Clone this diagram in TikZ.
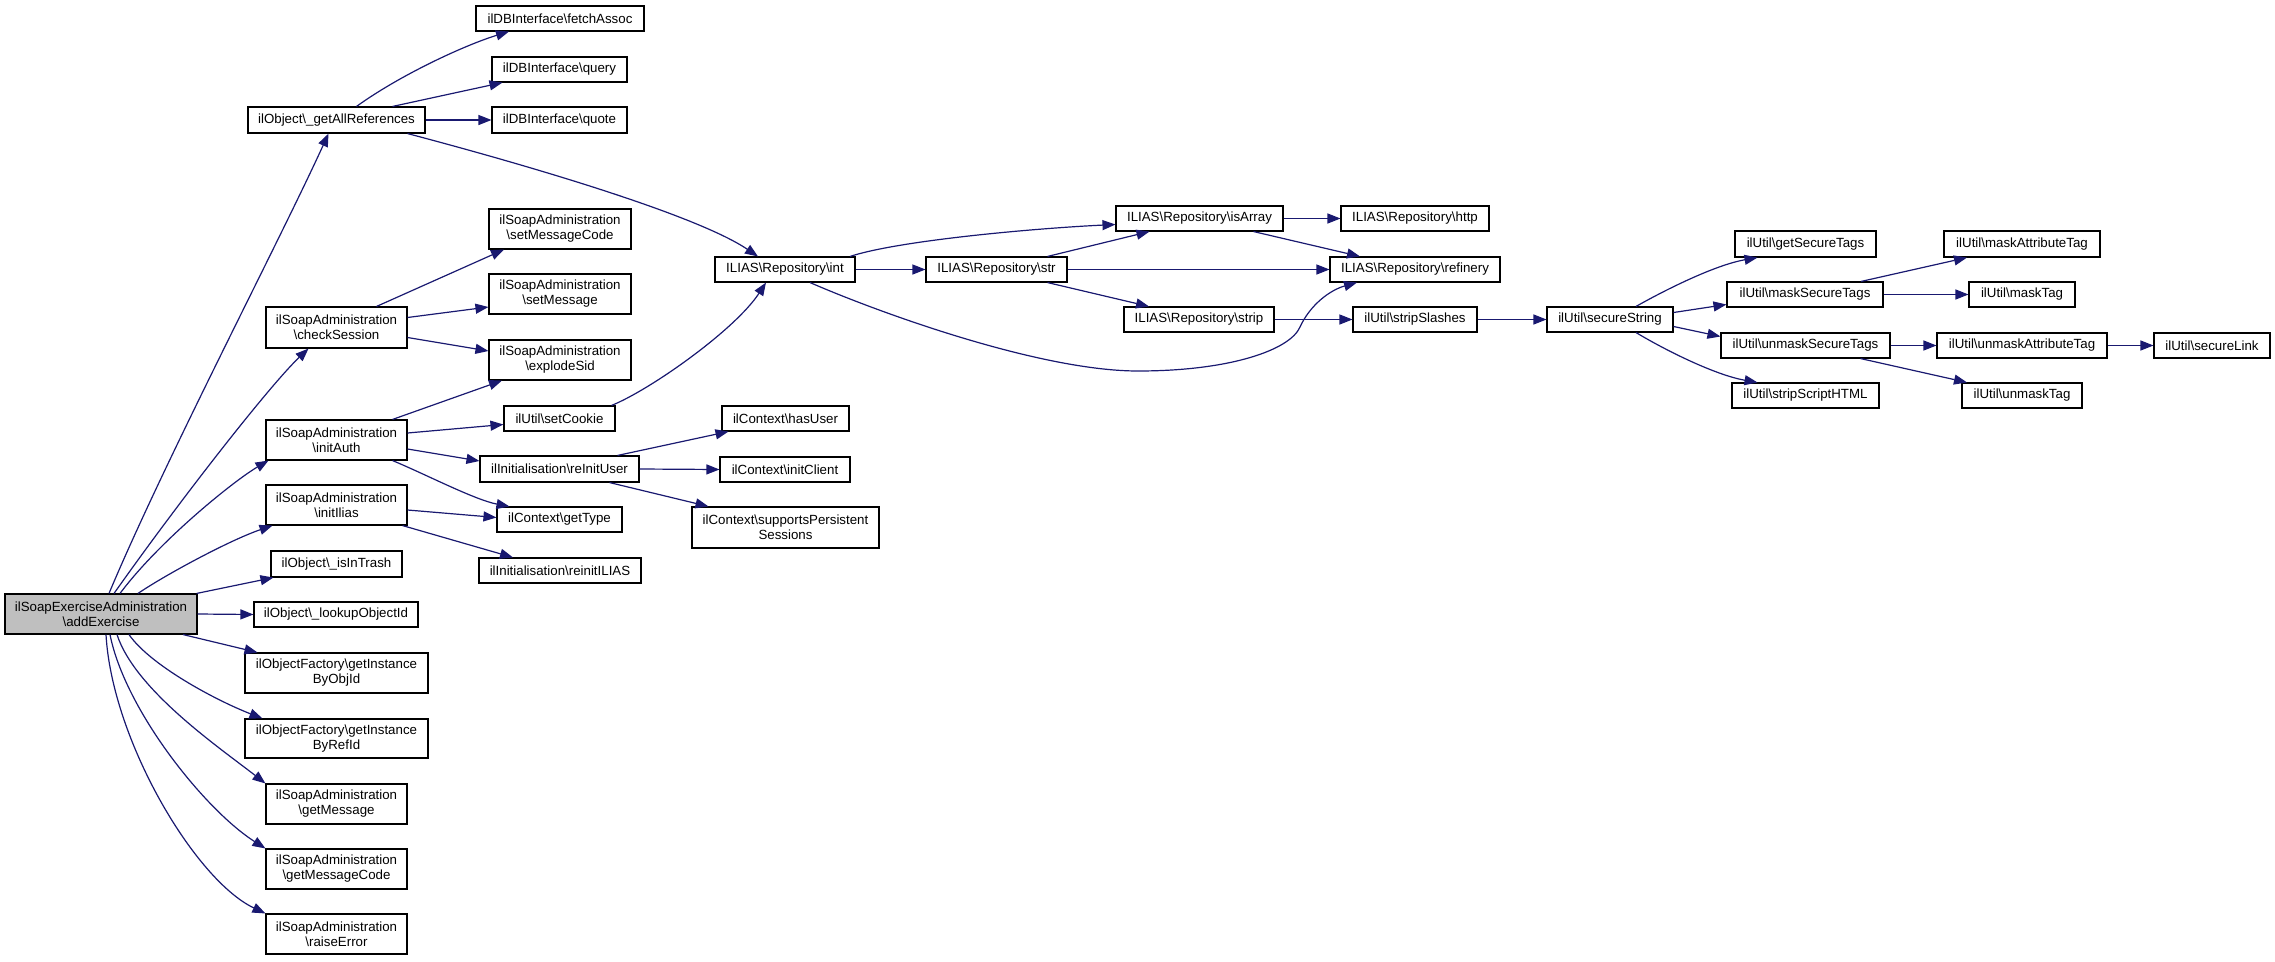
\documentclass[tikz,border=0pt]{standalone}
\usepackage{fontspec}
\setmainfont{Liberation Sans}
\usetikzlibrary{arrows.meta}
\definecolor{mb}{HTML}{191970}
\definecolor{rootgray}{HTML}{BFBFBF}
\newcommand\myb{\textbackslash}
\newcommand\nodefont{\fontsize{13.3}{15}\selectfont}
\tikzset{
  box/.style={draw=black, fill=white, line width=1.1pt, inner sep=0pt, align=center, font=\nodefont},
  e/.style={draw=mb, line width=1.2pt, -{Triangle[length=13pt,width=10pt]}},
}
\begin{document}
\begin{tikzpicture}[x=1pt,y=1pt]
\useasboundingbox (0,0) rectangle (2275,-961);
% column 1
\node[box, fill=rootgray, minimum width=192pt, minimum height=40pt] (ae) at (101,-614) {ilSoapExerciseAdministration\\\myb addExercise};
% column 2
\node[box, minimum width=177pt, minimum height=26pt] (gar) at (336.5,-120) {ilObject\myb\_getAllReferences};
\node[box, minimum width=141pt, minimum height=41pt] (cs) at (336.5,-327.5) {ilSoapAdministration\\\myb checkSession};
\node[box, minimum width=141pt, minimum height=40pt] (ia) at (336.5,-440) {ilSoapAdministration\\\myb initAuth};
\node[box, minimum width=141pt, minimum height=40pt] (ii) at (336.5,-505) {ilSoapAdministration\\\myb initIlias};
\node[box, minimum width=131pt, minimum height=26pt] (it) at (336.5,-564) {ilObject\myb\_isInTrash};
\node[box, minimum width=164pt, minimum height=25pt] (lo) at (336,-614.5) {ilObject\myb\_lookupObjectId};
\node[box, minimum width=183pt, minimum height=40pt] (gio) at (336.5,-673) {ilObjectFactory\myb getInstance\\ByObjId};
\node[box, minimum width=183pt, minimum height=39pt] (gir) at (336.5,-738.5) {ilObjectFactory\myb getInstance\\ByRefId};
\node[box, minimum width=141pt, minimum height=40pt] (gm) at (336.5,-804) {ilSoapAdministration\\\myb getMessage};
\node[box, minimum width=141pt, minimum height=40pt] (gmc) at (336.5,-869) {ilSoapAdministration\\\myb getMessageCode};
\node[box, minimum width=141pt, minimum height=40pt] (re) at (336.5,-934) {ilSoapAdministration\\\myb raiseError};
% column 3
\node[box, minimum width=168pt, minimum height=25pt] (fa) at (560,-18.5) {ilDBInterface\myb fetchAssoc};
\node[box, minimum width=135pt, minimum height=25pt] (qu) at (559.5,-69.5) {ilDBInterface\myb query};
\node[box, minimum width=135pt, minimum height=26pt] (qo) at (559.5,-120) {ilDBInterface\myb quote};
\node[box, minimum width=142pt, minimum height=40pt] (smc) at (560,-229) {ilSoapAdministration\\\myb setMessageCode};
\node[box, minimum width=142pt, minimum height=40pt] (sm) at (560,-294) {ilSoapAdministration\\\myb setMessage};
\node[box, minimum width=142pt, minimum height=40pt] (es) at (560,-360) {ilSoapAdministration\\\myb explodeSid};
\node[box, minimum width=111pt, minimum height=25pt] (sc) at (559.5,-418.5) {ilUtil\myb setCookie};
\node[box, minimum width=159pt, minimum height=26pt] (riu) at (559.5,-469) {ilInitialisation\myb reInitUser};
\node[box, minimum width=125pt, minimum height=25pt] (gt) at (559.5,-519.5) {ilContext\myb getType};
\node[box, minimum width=162pt, minimum height=25pt] (ril) at (560,-570.5) {ilInitialisation\myb reinitILIAS};
% column 4
\node[box, minimum width=140pt, minimum height=25pt] (int) at (785,-269.5) {ILIAS\myb Repository\myb int};
\node[box, minimum width=127pt, minimum height=25pt] (hu) at (785.5,-418.5) {ilContext\myb hasUser};
\node[box, minimum width=130pt, minimum height=25pt] (ic) at (785,-469.5) {ilContext\myb initClient};
\node[box, minimum width=187pt, minimum height=41pt] (sps) at (785.5,-527.5) {ilContext\myb supportsPersistent\\Sessions};
% column 5-7
\node[box, minimum width=141pt, minimum height=25pt] (str) at (996.5,-269.5) {ILIAS\myb Repository\myb str};
\node[box, minimum width=167pt, minimum height=25pt] (isa) at (1199.5,-218.5) {ILIAS\myb Repository\myb isArray};
\node[box, minimum width=150pt, minimum height=25pt] (strip) at (1199,-319.5) {ILIAS\myb Repository\myb strip};
\node[box, minimum width=148pt, minimum height=25pt] (http) at (1415,-218.5) {ILIAS\myb Repository\myb http};
\node[box, minimum width=170pt, minimum height=25pt] (ref) at (1415,-269.5) {ILIAS\myb Repository\myb refinery};
\node[box, minimum width=124pt, minimum height=25pt] (ss) at (1415,-319.5) {ilUtil\myb stripSlashes};
% columns 8-11
\node[box, minimum width=126pt, minimum height=25pt] (sec) at (1610,-319.5) {ilUtil\myb secureString};
\node[box, minimum width=141pt, minimum height=26pt] (gst) at (1805.5,-244) {ilUtil\myb getSecureTags};
\node[box, minimum width=156pt, minimum height=25pt] (mst) at (1805,-294.5) {ilUtil\myb maskSecureTags};
\node[box, minimum width=169pt, minimum height=25pt] (ust) at (1805.5,-345.5) {ilUtil\myb unmaskSecureTags};
\node[box, minimum width=147pt, minimum height=25pt] (ssh) at (1805.5,-395.5) {ilUtil\myb stripScriptHTML};
\node[box, minimum width=156pt, minimum height=26pt] (mat) at (2022,-244) {ilUtil\myb maskAttributeTag};
\node[box, minimum width=106pt, minimum height=25pt] (mt) at (2022,-294.5) {ilUtil\myb maskTag};
\node[box, minimum width=170pt, minimum height=25pt] (uat) at (2022,-345.5) {ilUtil\myb unmaskAttributeTag};
\node[box, minimum width=120pt, minimum height=25pt] (ut) at (2022,-395.5) {ilUtil\myb unmaskTag};
\node[box, minimum width=116pt, minimum height=25pt] (sl) at (2212,-345.5) {ilUtil\myb secureLink};
% edges from root
\draw[e] ([xshift=8pt]ae.north) .. controls (165,-460) and (280,-240) .. ([xshift=-8pt]gar.south);
\draw[e] ([xshift=13pt]ae.north) .. controls (180,-500) and (270,-385) .. ([xshift=-28pt]cs.south);
\draw[e] ([xshift=19pt]ae.north) .. controls (160,-540) and (235,-480) .. ([xshift=-68pt]ia.south);
\draw[e] ([xshift=37pt]ae.north) .. controls (165,-575) and (230,-540) .. ([xshift=-64pt]ii.south);
\draw[e] ([xshift=-1pt]ae.north east) -- ([xshift=3pt]it.south west);
\draw[e] (ae.east) -- (lo.west);
\draw[e] ([xshift=82pt]ae.south) -- ([xshift=-79pt]gio.north);
\draw[e] ([xshift=28pt]ae.south) .. controls (150,-665) and (215,-700) .. ([xshift=18pt]gir.north west);
\draw[e] ([xshift=16pt]ae.south) .. controls (135,-690) and (220,-748) .. (gm.north west);
\draw[e] ([xshift=9pt]ae.south) .. controls (125,-710) and (205,-810) .. (gmc.north west);
\draw[e] ([xshift=5pt]ae.south) .. controls (112,-740) and (195,-880) .. (re.north west);
% getAllReferences
\draw[e] ([xshift=20pt]gar.north) .. controls (400,-75) and (465,-45) .. ([xshift=-51pt]fa.south);
\draw[e] ([xshift=56pt]gar.north) -- ([xshift=-57pt]qu.south);
\draw[e] (gar.east) -- (qo.west);
\draw[e] ([xshift=71pt]gar.south) .. controls (538,-168) and (698,-216) .. ([xshift=-27pt]int.north);
% checkSession
\draw[e] ([xshift=40pt]cs.north) -- ([xshift=-56pt]smc.south);
\draw[e] ([yshift=10pt]cs.east) -- ([yshift=-13pt]sm.west);
\draw[e] ([yshift=-10pt]cs.east) -- ([yshift=9pt]es.west);
% initAuth
\draw[e] ([xshift=56pt]ia.north) -- ([xshift=-58pt]es.south);
\draw[e] ([yshift=7pt]ia.east) -- ([yshift=-6pt]sc.west);
\draw[e] ([yshift=-9pt]ia.east) -- ([yshift=8pt]riu.west);
\draw[e] ([xshift=56pt]ia.south) .. controls (425,-474) and (475,-500) .. ([xshift=-50pt]gt.north);
% initIlias
\draw[e] ([yshift=-5pt]ii.east) -- ([yshift=2pt]gt.west);
\draw[e] ([xshift=66pt]ii.south) -- ([xshift=-47pt]ril.north);
% setCookie
\draw[e] ([xshift=52pt]sc.north) .. controls (650,-390) and (735,-330) .. ([xshift=-19pt]int.south);
% reInitUser
\draw[e] ([xshift=58pt]riu.north) -- ([xshift=-57pt]hu.south);
\draw[e] (riu.east) -- (ic.west);
\draw[e] ([xshift=50pt]riu.south) -- ([xshift=-77pt]sps.north);
% int
\draw[e] ([xshift=65pt]int.north) .. controls (900,-240) and (1040,-228) .. ([yshift=-6pt]isa.west);
\draw[e] (int.east) -- (str.west);
\draw[e] ([xshift=25pt]int.south) .. controls (880,-313) and (1040,-371) .. (1138,-371)
   .. controls (1230,-371) and (1290,-350) .. (1300,-327)
   .. controls (1310,-305) and (1330,-290) .. ([xshift=-58pt]ref.south);
% str
\draw[e] ([xshift=51pt]str.north) -- ([xshift=-50pt]isa.south);
\draw[e] (str.east) -- (ref.west);
\draw[e] ([xshift=51pt]str.south) -- ([xshift=-50pt]strip.north);
% isArray
\draw[e] (isa.east) -- (http.west);
\draw[e] ([xshift=54pt]isa.south) -- ([xshift=-55pt]ref.north);
% strip chain
\draw[e] (strip.east) -- (ss.west);
\draw[e] (ss.east) -- (sec.west);
% secureString
\draw[e] ([xshift=26pt]sec.north) .. controls (1665,-290) and (1715,-265) .. ([xshift=-48pt]gst.south);
\draw[e] ([yshift=7pt]sec.east) -- ([yshift=-10pt]mst.west);
\draw[e] ([yshift=-7pt]sec.east) -- ([yshift=9pt]ust.west);
\draw[e] ([xshift=26pt]sec.south) .. controls (1665,-350) and (1715,-375) .. ([xshift=-48pt]ssh.north);
% mask / unmask
\draw[e] ([xshift=56pt]mst.north) -- ([xshift=-55pt]mat.south);
\draw[e] (mst.east) -- (mt.west);
\draw[e] (ust.east) -- (uat.west);
\draw[e] ([xshift=55pt]ust.south) -- ([xshift=-55pt]ut.north);
\draw[e] (uat.east) -- (sl.west);
\end{tikzpicture}
\end{document}
